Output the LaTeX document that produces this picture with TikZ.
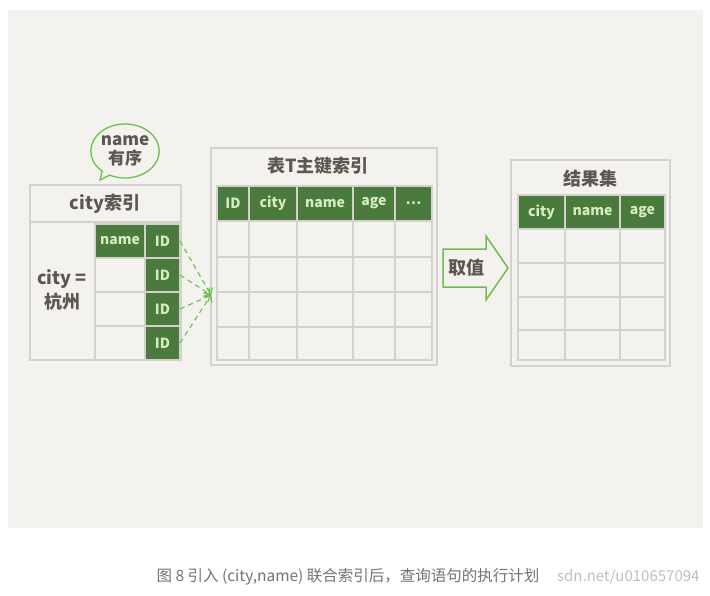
\documentclass[tikz,border=0pt]{standalone}
\usepackage{fontspec}
\setmainfont{Noto Sans CJK SC}
\newfontfamily\capfont{Noto Sans CJK SC}
\usetikzlibrary{shapes.callouts,arrows.meta}
\definecolor{bg}{HTML}{F3F2EE}
\definecolor{gridc}{HTML}{D4D2CC}
\definecolor{dg}{HTML}{4A7A3D}
\definecolor{lt}{HTML}{D6ECBE}
\definecolor{tx}{HTML}{5C574F}
\definecolor{lg}{HTML}{6DBF4E}
\tikzset{
 frame/.style={draw=gridc,line width=1.6pt},
 gcell/.style={fill=dg,draw=gridc,line width=1.2pt},
 wcell/.style={draw=gridc,line width=1.2pt},
 gt/.style={text=lt,font=\bfseries\fontsize{14}{14}\selectfont},
 dt/.style={text=tx,font=\bfseries\fontsize{18}{18}\selectfont}
}
\begin{document}
\begin{tikzpicture}[x=1pt,y=-1pt]
\useasboundingbox (0,0) rectangle (710,595);
\fill[white] (0,0) rectangle (710,595);
\fill[bg] (8,10) rectangle (703,528);
% left index
\draw[frame] (30,185) rectangle (181,360);
\draw[frame] (30,222) -- (181,222);
\node[dt] (lt) at (105,204) {city索引};
\draw[wcell] (95,224) rectangle (145,360);
\draw[wcell] (95,258) -- (145,258) (95,292) -- (145,292) (95,326) -- (145,326);
\draw[gcell] (95,224) rectangle (145,258);
\node[gt] (nm) at (120,241) {name};
\foreach \i/\a/\b in {1/224/258,2/258/292,3/292/326,4/326/360}{
 \draw[gcell] (145,\a) rectangle (180,\b);
 \node[gt] (id\i) at (162.5,{(\a+\b)/2}) {ID};
 \coordinate (e\i) at (180,{(\a+\b)/2});
}
\node[dt,align=center] (cw) at (62,290) {city =\\[4pt]杭州};
% bubble
\node[ellipse callout,draw=lg,line width=1.3pt,fill=bg,minimum width=62pt,minimum height=54pt,inner sep=0pt,
 callout absolute pointer={(100,180)},text=tx,align=center,font=\bfseries\fontsize{17}{19}\selectfont] (bub) at (125,151) {name\\有序};
% middle table
\draw[frame] (211,148) rectangle (437,365);
\node[dt] (mt) at (318,166) {表T主键索引};
\coordinate (tgt) at (211,295);
\foreach \a/\b/\t [count=\k] in {217/249/ID,249/297/city,297/353/name,353/395/age,395/432/{\dots}}{
 \draw[gcell] (\a,186) rectangle (\b,221);
 \node[gt] (h\k) at ({(\a+\b)/2},203.5) {\t};
 \foreach \r/\s in {221/257,257/292,292/327,327/360}
  \draw[wcell] (\a,\r) rectangle (\b,\s);
}
\foreach \i in {1,...,4}
 \draw[lg,line width=1.1pt,dashed,dash pattern=on 5pt off 4pt,-{Straight Barb[length=5pt]}] (e\i) -- (tgt);
% arrow
\draw[lg,line width=1.5pt,fill=bg] (443,249) -- (486,249) -- (486,236) -- (508,268) -- (486,300) -- (486,287) -- (443,287) -- cycle;
\node[dt] (qz) at (466,268) {取值};
% right table
\draw[frame] (511,160) rectangle (670,366);
\node[dt] (rt) at (590,179) {结果集};
\foreach \a/\b/\t [count=\k] in {518/565/city,565/620/name,620/665/age}{
 \draw[gcell] (\a,195) rectangle (\b,229);
 \node[gt] (r\k) at ({(\a+\b)/2},212) {\t};
 \foreach \r/\s in {229/263,263/297,297/330,330/360}
  \draw[wcell] (\a,\r) rectangle (\b,\s);
}
% caption
\node[text=black!25,font=\capfont\fontsize{15}{15}\selectfont,anchor=east] (wm) at (703,577) {sdn.net/u010657094};
\node[text=black!55,font=\capfont\fontsize{15.5}{15.5}\selectfont,anchor=west] (cap) at (153,577) {图 8 引入 (city,name) 联合索引后，查询语句的执行计划};
\end{tikzpicture}
\end{document}
